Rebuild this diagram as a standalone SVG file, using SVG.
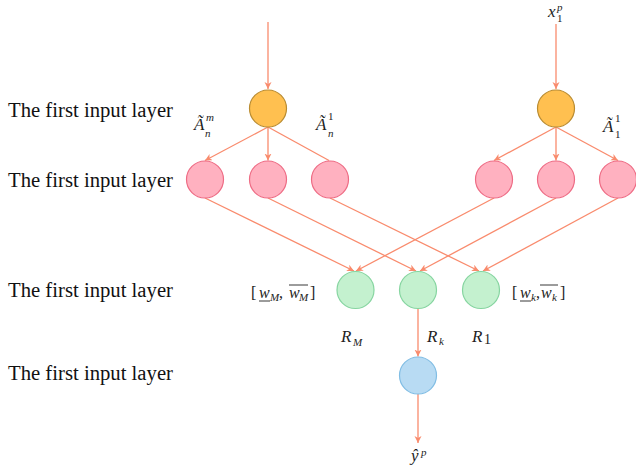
<svg xmlns="http://www.w3.org/2000/svg" width="636" height="470" viewBox="0 0 636 470">
<style>
.lbl{font-family:"Liberation Serif",serif;font-size:20px;fill:#111}
.m{font-family:"Liberation Serif",serif;font-style:italic;font-size:17px;fill:#222}
.s{font-family:"Liberation Serif",serif;font-style:italic;font-size:11px;fill:#222}
.u{font-family:"Liberation Serif",serif;font-size:16px;fill:#222}
.e{stroke:#f98b6d;stroke-width:1.3;fill:none}
.ea{stroke:#f98b6d;stroke-width:1.3;fill:none;marker-end:url(#ah)}
.or{fill:#ffc050;stroke:#b98b30;stroke-width:1.2}
.pk{fill:#ffb1c0;stroke:#ee6b84;stroke-width:1.2}
.gr{fill:#c4f1cf;stroke:#86d5a0;stroke-width:1.2}
.bl{fill:#b8dbf3;stroke:#80bde4;stroke-width:1.2}
.ov{stroke:#222;stroke-width:0.9}
</style>
<defs>
<marker id="ah" markerUnits="userSpaceOnUse" markerWidth="8" markerHeight="8" refX="7" refY="3.5" orient="auto">
<path d="M0,0 L7,3.5 L0,7 L2,3.5 z" fill="#f98b6d"/>
</marker>
</defs>
<g id="labels">
<text class="lbl" x="8" y="117" textLength="165" lengthAdjust="spacingAndGlyphs">The first input layer</text>
<text class="lbl" x="8" y="187" textLength="165" lengthAdjust="spacingAndGlyphs">The first input layer</text>
<text class="lbl" x="8" y="297" textLength="165" lengthAdjust="spacingAndGlyphs">The first input layer</text>
<text class="lbl" x="8" y="380" textLength="165" lengthAdjust="spacingAndGlyphs">The first input layer</text>
</g>
<g id="connectors">
<line class="ea" x1="268" y1="22" x2="268" y2="89"/>
<line class="ea" x1="556" y1="24" x2="556" y2="89"/>
<line class="ea" x1="268" y1="127" x2="205" y2="160.5"/>
<line class="ea" x1="268" y1="127" x2="268" y2="160.5"/>
<line class="e" x1="268" y1="127" x2="329" y2="160.5"/>
<line class="ea" x1="556" y1="127" x2="494" y2="160.5"/>
<line class="ea" x1="556" y1="127" x2="556" y2="160.5"/>
<line class="ea" x1="556" y1="127" x2="618" y2="160.5"/>
<line class="ea" x1="205" y1="198" x2="354" y2="271"/>
<line class="ea" x1="268" y1="198" x2="416" y2="271"/>
<line class="ea" x1="330" y1="198" x2="479" y2="271"/>
<line class="ea" x1="494" y1="198" x2="356" y2="271"/>
<line class="ea" x1="556" y1="198" x2="420" y2="271"/>
<line class="ea" x1="618" y1="198" x2="483" y2="271"/>
<line class="ea" x1="418" y1="308" x2="418" y2="356.5"/>
<line class="ea" x1="418" y1="394" x2="418" y2="443"/>
</g>
<g id="n-o1"><circle class="or" cx="268" cy="108.5" r="18.5"/></g>
<g id="n-o2"><circle class="or" cx="556" cy="108.5" r="18.5"/></g>
<g id="n-p1"><circle class="pk" cx="205" cy="179.5" r="18.5"/></g>
<g id="n-p2"><circle class="pk" cx="268" cy="179.5" r="18.5"/></g>
<g id="n-p3"><circle class="pk" cx="330" cy="179.5" r="18.5"/></g>
<g id="n-p4"><circle class="pk" cx="494" cy="179.5" r="18.5"/></g>
<g id="n-p5"><circle class="pk" cx="556" cy="179.5" r="18.5"/></g>
<g id="n-p6"><circle class="pk" cx="618" cy="179.5" r="18.5"/></g>
<g id="n-g1"><circle class="gr" cx="355.5" cy="290" r="18.5"/></g>
<g id="n-g2"><circle class="gr" cx="418" cy="290" r="18.5"/></g>
<g id="n-g3"><circle class="gr" cx="481" cy="290" r="18.5"/></g>
<g id="n-b"><circle class="bl" cx="418" cy="375.5" r="18.5"/></g>
<g id="math">
<text class="m" x="548" y="17">x</text><text class="s" x="557" y="11">p</text><text class="s" x="557" y="22" style="font-style:normal">1</text>
<text class="m" x="194" y="130">Ã</text><text class="s" x="206" y="121">m</text><text class="s" x="205" y="137">n</text>
<text class="m" x="316" y="130">Ã</text><text class="s" x="328" y="120" style="font-style:normal">1</text><text class="s" x="328" y="137">n</text>
<text class="m" x="603" y="132">Ã</text><text class="s" x="615" y="122" style="font-style:normal">1</text><text class="s" x="615" y="138" style="font-style:normal">1</text>
<text class="u" x="251" y="298">[</text><text class="m" x="259" y="298" style="font-size:16px">w</text><text class="s" x="270" y="301">M</text><text class="u" x="279" y="298">,</text><text class="m" x="289" y="298" style="font-size:16px">w</text><text class="s" x="299" y="301">M</text><text class="u" x="310" y="298">]</text>
<line class="ov" x1="259" y1="301" x2="270" y2="301"/><line class="ov" x1="289" y1="285" x2="308" y2="285"/>
<text class="u" x="512" y="298">[</text><text class="m" x="520" y="298" style="font-size:16px">w</text><text class="s" x="531" y="301">k</text><text class="u" x="536" y="298">,</text><text class="m" x="541" y="298" style="font-size:16px">w</text><text class="s" x="552" y="301">k</text><text class="u" x="560" y="298">]</text>
<line class="ov" x1="520" y1="301" x2="531" y2="301"/><line class="ov" x1="540" y1="285" x2="558" y2="285"/>
<text class="m" x="341" y="342">R</text><text class="s" x="353" y="346">M</text>
<text class="m" x="427" y="342">R</text><text class="s" x="439" y="345">k</text>
<text class="m" x="472" y="342">R</text><text class="u" x="484" y="344" style="font-size:14px">1</text>
<text class="m" x="411" y="461">ŷ</text><text class="s" x="421" y="456">p</text>
</g>
</svg>
